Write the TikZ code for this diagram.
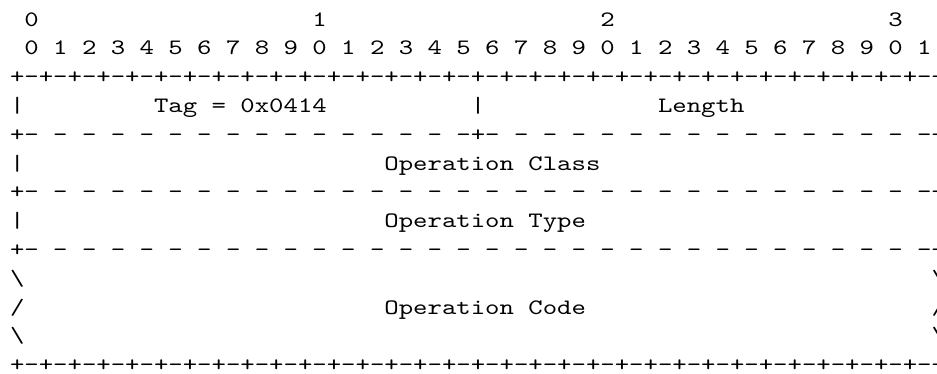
\documentclass[tikz,border=0pt]{standalone}
\usepackage{fontspec}
\newfontfamily\asciimono{lmmono10-regular.otf}[FakeStretch=1.2468, Ligatures=NoCommon]
\begin{document}
\begin{tikzpicture}[x=1pt,y=1pt,
  cell/.style={anchor=base west, inner sep=0pt, outer sep=0pt,
    font=\asciimono\fontsize{22pt}{28.8pt}\selectfont, text=black}]
\useasboundingbox (0,0) rectangle (937,-373);
% row 0: bit decades
\node[cell] (d0) at ({10+14.4*1},{-26}) {0};
\node[cell] (d1) at ({10+14.4*21},{-26}) {1};
\node[cell] (d2) at ({10+14.4*41},{-26}) {2};
\node[cell] (d3) at ({10+14.4*61},{-26}) {3};
% row 1: bit units
\node[cell] (units) at ({10+14.4*1},{-26-28.8*1}) {0 1 2 3 4 5 6 7 8 9 0 1 2 3 4 5 6 7 8 9 0 1 2 3 4 5 6 7 8 9 0 1};
% row 2: top border
\node[cell] (top) at ({10},{-26-28.8*2}) {+-+-+-+-+-+-+-+-+-+-+-+-+-+-+-+-+-+-+-+-+-+-+-+-+-+-+-+-+-+-+-+-+};
% row 3: Tag / Length
\node[cell] (l3a) at ({10},{-26-28.8*3}) {|};
\node[cell] (tag) at ({10+14.4*10},{-26-28.8*3}) {Tag = 0x0414};
\node[cell] (l3b) at ({10+14.4*32},{-26-28.8*3}) {|};
\node[cell] (len) at ({10+14.4*45},{-26-28.8*3}) {Length};
\node[cell] (l3c) at ({10+14.4*64},{-26-28.8*3}) {|};
% row 4: separator with middle plus
\node[cell] (sep1) at ({10},{-26-28.8*4}) {+- - - - - - - - - - - - - - - -+- - - - - - - - - - - - - - - -+};
% row 5: Operation Class
\node[cell] (l5a) at ({10},{-26-28.8*5}) {|};
\node[cell] (opclass) at ({10+14.4*26},{-26-28.8*5}) {Operation Class};
\node[cell] (l5b) at ({10+14.4*64},{-26-28.8*5}) {|};
% row 6
\node[cell] (sep2) at ({10},{-26-28.8*6}) {+- - - - - - - - - - - - - - - - - - - - - - - - - - - - - - - -+};
% row 7: Operation Type
\node[cell] (l7a) at ({10},{-26-28.8*7}) {|};
\node[cell] (optype) at ({10+14.4*26},{-26-28.8*7}) {Operation Type};
\node[cell] (l7b) at ({10+14.4*64},{-26-28.8*7}) {|};
% row 8
\node[cell] (sep3) at ({10},{-26-28.8*8}) {+- - - - - - - - - - - - - - - - - - - - - - - - - - - - - - - -+};
% rows 9-11: Operation Code (variable length)
\node[cell] (l9a) at ({10},{-26-28.8*9}) {\textbackslash};
\node[cell] (l9b) at ({10+14.4*64},{-26-28.8*9}) {\textbackslash};
\node[cell] (l10a) at ({10},{-26-28.8*10}) {/};
\node[cell] (opcode) at ({10+14.4*26},{-26-28.8*10}) {Operation Code};
\node[cell] (l10b) at ({10+14.4*64},{-26-28.8*10}) {/};
\node[cell] (l11a) at ({10},{-26-28.8*11}) {\textbackslash};
\node[cell] (l11b) at ({10+14.4*64},{-26-28.8*11}) {\textbackslash};
% row 12: bottom border
\node[cell] (bottom) at ({10},{-26-28.8*12}) {+-+-+-+-+-+-+-+-+-+-+-+-+-+-+-+-+-+-+-+-+-+-+-+-+-+-+-+-+-+-+-+-+};
\end{tikzpicture}
\end{document}
